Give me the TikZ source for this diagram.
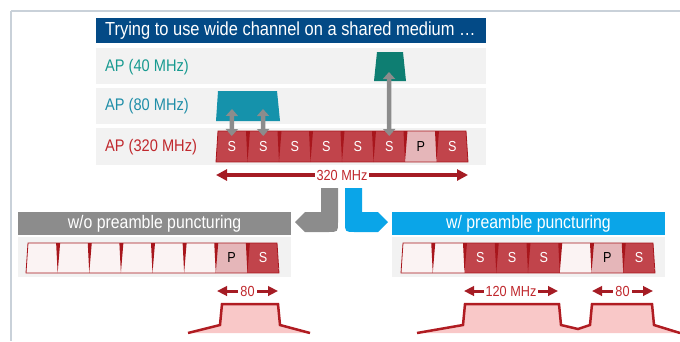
\documentclass[tikz,border=0pt]{standalone}
\usepackage{fontspec}
\setmainfont[FakeStretch=0.87]{Liberation Sans}
\usetikzlibrary{arrows.meta}

\definecolor{framegrey}{HTML}{C9D1D9}
\definecolor{titleblue}{HTML}{034A86}
\definecolor{bandgrey}{HTML}{F2F2F2}
\definecolor{tealtxt}{HTML}{179A90}
\definecolor{tealblk}{HTML}{0E7E72}
\definecolor{cyantxt}{HTML}{1F8EA8}
\definecolor{cyanblk}{HTML}{1592AB}
\definecolor{redtxt}{HTML}{C0282D}
\definecolor{sepred}{HTML}{A8161C}
\definecolor{blkS}{HTML}{C1444B}
\definecolor{blkP}{HTML}{E5B6B9}
\definecolor{blkE}{HTML}{FBF3F3}
\definecolor{arrowred}{HTML}{A51C24}
\definecolor{linkgrey}{HTML}{8C8C8C}
\definecolor{linkblue}{HTML}{0AA5E8}
\definecolor{maskpink}{HTML}{F9C8C8}
\definecolor{maskred}{HTML}{B01C22}

\tikzset{
  frameline/.style={draw=framegrey, line width=1.5pt},
  band/.style={fill=bandgrey},
  rowlabel/.style={anchor=west, inner sep=0pt, font=\fontsize{16.8}{18}\selectfont},
  banner/.style={inner sep=0pt, text=white, font=\fontsize{18.2}{20}\selectfont},
  blklabel/.style={inner sep=0pt, font=\fontsize{14.5}{16}\selectfont},
  txtS/.style={blklabel, text=white},
  txtP/.style={blklabel, text=black},
  apdouble/.style={draw=linkgrey, line width=4.5pt,
    {Triangle[length=7pt,width=12pt]}-{Triangle[length=7pt,width=12pt]}},
  widthbar/.style={draw=arrowred, line width=3pt,
    {Triangle[length=10pt,width=9.5pt]}-{Triangle[length=10pt,width=9.5pt]}},
  widelabel/.style={fill=white, text=redtxt, inner xsep=2pt, inner ysep=1pt,
    font=\fontsize{14.6}{16}\selectfont},
  mask/.style={draw=maskred, line width=2.5pt, line join=miter},
}

% One 8-subchannel strip: name prefix, left x, right x, top y, bottom y, fill list
\newcommand\chanstrip[6]{%
  \pgfmathsetmacro\bw{(#3-#2)/8}%
  \begin{scope}
    \clip (#2+2,#4) -- (#3-2,#4) -- (#3,#5) -- (#2,#5) -- cycle;
    \foreach \t [count=\i from 0] in {#6} {
      \fill[blk\t] (#2+\i*\bw,#4) rectangle (#2+\i*\bw+\bw,#5);
    }
  \end{scope}
  \foreach \i in {1,...,7} {
    \fill[sepred] (#2+\i*\bw-1.5,#4) -- (#2+\i*\bw+2.5,#4) -- (#2+\i*\bw,#5) -- cycle;
  }
  \draw[sepred, line width=0.8pt] (#2+2,#4) -- (#3-2,#4) -- (#3,#5) -- (#2,#5) -- cycle;
  \foreach \t [count=\i from 0] in {#6} {
    \def\tmpE{E}%
    \ifx\t\tmpE\else
      \node[txt\t] (#1\i) at (#2+\i*\bw+\bw/2,{(#4+#5)/2}) {\t};
    \fi
  }%
}

\begin{document}
\begin{tikzpicture}[x=1pt,y=-1pt]
\useasboundingbox (0,0) rectangle (680,341);

% page frame
\draw[frameline] (11,11) -- (680,11);
\draw[frameline] (11,11) -- (11,341);

% title and access-point rows
\fill[titleblue] (96,18) rectangle (486,43);
\node[banner, anchor=west, font=\fontsize{18.9}{20}\selectfont] (title) at (105,31)
  {Trying to use wide channel on a shared medium …};
\fill[band] (96,48) rectangle (486,84);
\fill[band] (96,88) rectangle (486,124);
\fill[band] (96,128) rectangle (486,165);
\node[rowlabel, text=tealtxt] (ap40) at (105,67) {AP (40 MHz)};
\node[rowlabel, text=cyantxt] (ap80) at (105,106) {AP (80 MHz)};
\node[rowlabel, text=redtxt] (ap320) at (105,147) {AP (320 MHz)};

% narrower APs
\fill[tealblk] (377,52) -- (403,52) -- (406,81) -- (374,81) -- cycle;
\fill[cyanblk] (218,91) -- (277,91) -- (280,121) -- (216,121) -- cycle;

% 320 MHz channel
\chanstrip{top}{216}{468}{131}{162}{S,S,S,S,S,S,P,S}

% overlaps between the APs
\coordinate (o80a) at (232,109);
\coordinate (o80b) at (263,109);
\coordinate (o40) at (389,72);
\draw[apdouble] (o80a) -- (top0.north |- 0,136);
\draw[apdouble] (o80b) -- (top1.north |- 0,136);
\draw[apdouble] (o40) -- (top5.north |- 0,136);

% total width
\coordinate (w1) at (216,175);
\coordinate (w2) at (468,175);
\draw[widthbar, line width=3.2pt,
  {Triangle[length=11pt,width=11pt]}-{Triangle[length=11pt,width=11pt]}] (w1) -- (w2);
\node[widelabel] (w320) at (342,175) {320 MHz};

% split into the two outcomes
\fill[linkgrey] (321,188) -- (338,188) -- (338,222) .. controls (338,232) .. (328,232)
  -- (305,232) -- (295,222) -- (305,212) -- (321,212) -- cycle;
\fill[linkblue] (345,188) -- (362,188) -- (362,212) -- (378,212) -- (388,222)
  -- (378,232) -- (355,232) .. controls (345,232) .. (345,222) -- cycle;

% without preamble puncturing
\fill[linkgrey] (18,212) rectangle (291,235);
\node[banner] (wo) at (154.5,223.5) {w/o preamble puncturing};
\fill[band] (18,237) rectangle (291,277);
\chanstrip{lft}{26}{279}{243}{273}{E,E,E,E,E,E,P,S}
\coordinate (l1) at (217,291);
\coordinate (l2) at (278,291);
\draw[widthbar] (l1) -- (l2);
\node[widelabel] (l80) at (247.5,291) {80};
\fill[maskpink] (188,333) -- (220,325) -- (222,304) -- (278,304) -- (280,325) -- (310,333) -- cycle;
\draw[mask] (188,333) -- (220,325) -- (222,304) -- (278,304) -- (280,325) -- (310,333);

% with preamble puncturing
\fill[linkblue] (392,212) rectangle (665,235);
\node[banner] (w) at (528.5,223.5) {w/ preamble puncturing};
\fill[band] (392,237) rectangle (665,277);
\chanstrip{rgt}{401}{655}{243}{273}{E,E,S,S,S,E,P,S}
\coordinate (r1) at (464,291);
\coordinate (r2) at (558,291);
\draw[widthbar] (r1) -- (r2);
\node[widelabel] (r120) at (511,291) {120 MHz};
\coordinate (r3) at (592,291);
\coordinate (r4) at (653,291);
\draw[widthbar] (r3) -- (r4);
\node[widelabel] (r80) at (622.5,291) {80};
\fill[maskpink] (417,333) -- (463,325) -- (465,304) -- (559,304) -- (561,325) -- (578,329)
  -- (590,325) -- (592,304) -- (652,304) -- (654,325) -- (680,333) -- cycle;
\draw[mask] (417,333) -- (463,325) -- (465,304) -- (559,304) -- (561,325) -- (578,329)
  -- (590,325) -- (592,304) -- (652,304) -- (654,325) -- (680,333);
\end{tikzpicture}
\end{document}
